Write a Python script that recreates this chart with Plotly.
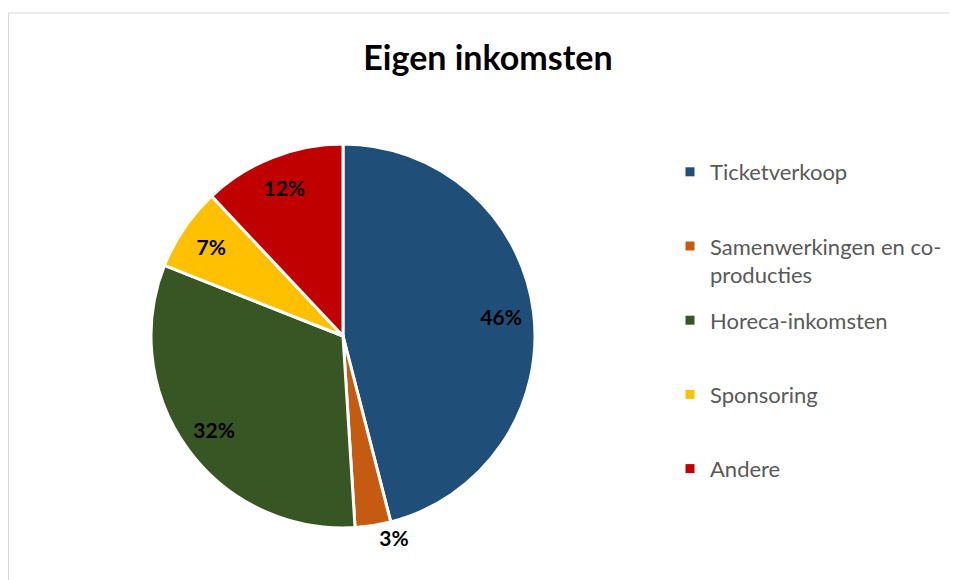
import plotly.graph_objects as go

categories = ["Ticketverkoop", "Samenwerkingen en co-<br>producties", "Horeca-inkomsten", "Sponsoring", "Andere"]
values = [46, 3, 32, 7, 12]
colors = ["#1F4E79", "#C55A11", "#375623", "#FFC000", "#C00000"]
text_positions = ["inside", "outside", "inside", "inside", "inside"]

W, H = 957, 580
OFF = 8  # page body offset
cx, cy, R = 343 - OFF, 336 - OFF, 192
dom = dict(x=[(cx - R) / W, (cx + R) / W], y=[(H - cy - R) / H, (H - cy + R) / H])

fig = go.Figure()
# coloured slices
fig.add_trace(go.Pie(
    labels=categories, values=values, sort=False, direction="clockwise", rotation=0,
    marker=dict(colors=colors, line=dict(color="white", width=3)),
    textinfo="none", domain=dom, showlegend=False, hoverinfo="label+percent",
))
# transparent ring carrying the percentage labels near the rim
fig.add_trace(go.Pie(
    labels=categories, values=values, sort=False, direction="clockwise", rotation=0, hole=0.66,
    marker=dict(colors=["rgba(0,0,0,0)"] * len(values), line=dict(width=0)),
    texttemplate="%{percent:.0%}", textposition=text_positions,
    insidetextorientation="horizontal",
    textfont=dict(family="Lato", size=21, color="black", weight="bold"),
    domain=dom, showlegend=False, hoverinfo="skip",
))
# legend entries
for i, (name, col) in enumerate(zip(categories, colors)):
    label = name if "<br>" in name else name + "<br> "
    fig.add_trace(go.Scatter(
        x=[None], y=[None], mode="markers", name=label, legendgroup=f"g{i}",
        marker=dict(symbol="square", size=9, color=col),
    ))

fig.update_layout(
    width=W, height=H,
    margin=dict(l=0, r=0, t=0, b=0),
    paper_bgcolor="white", plot_bgcolor="white",
    xaxis=dict(visible=False), yaxis=dict(visible=False),
    title=dict(text="<b>Eigen inkomsten</b>", x=(488 - OFF) / W, y=1 - (58 - OFF) / H,
               xanchor="center", yanchor="middle",
               font=dict(family="Lato", size=34, color="black")),
    legend=dict(x=(710 - OFF - 40) / W, y=1 - (172 - OFF - 21) / H, xanchor="left", yanchor="top",
                valign="top", font=dict(family="Lato", size=22, color="#595959"),
                tracegroupgap=14, bgcolor="rgba(0,0,0,0)"),
    shapes=[dict(type="rect", xref="paper", yref="paper", x0=0.5 / W, x1=1.02, y0=-0.02,
                 y1=1 - (13 - OFF) / H, line=dict(color="#D9D9D9", width=1),
                 fillcolor="rgba(0,0,0,0)", layer="below")],
)

fig.write_html("out.html")
